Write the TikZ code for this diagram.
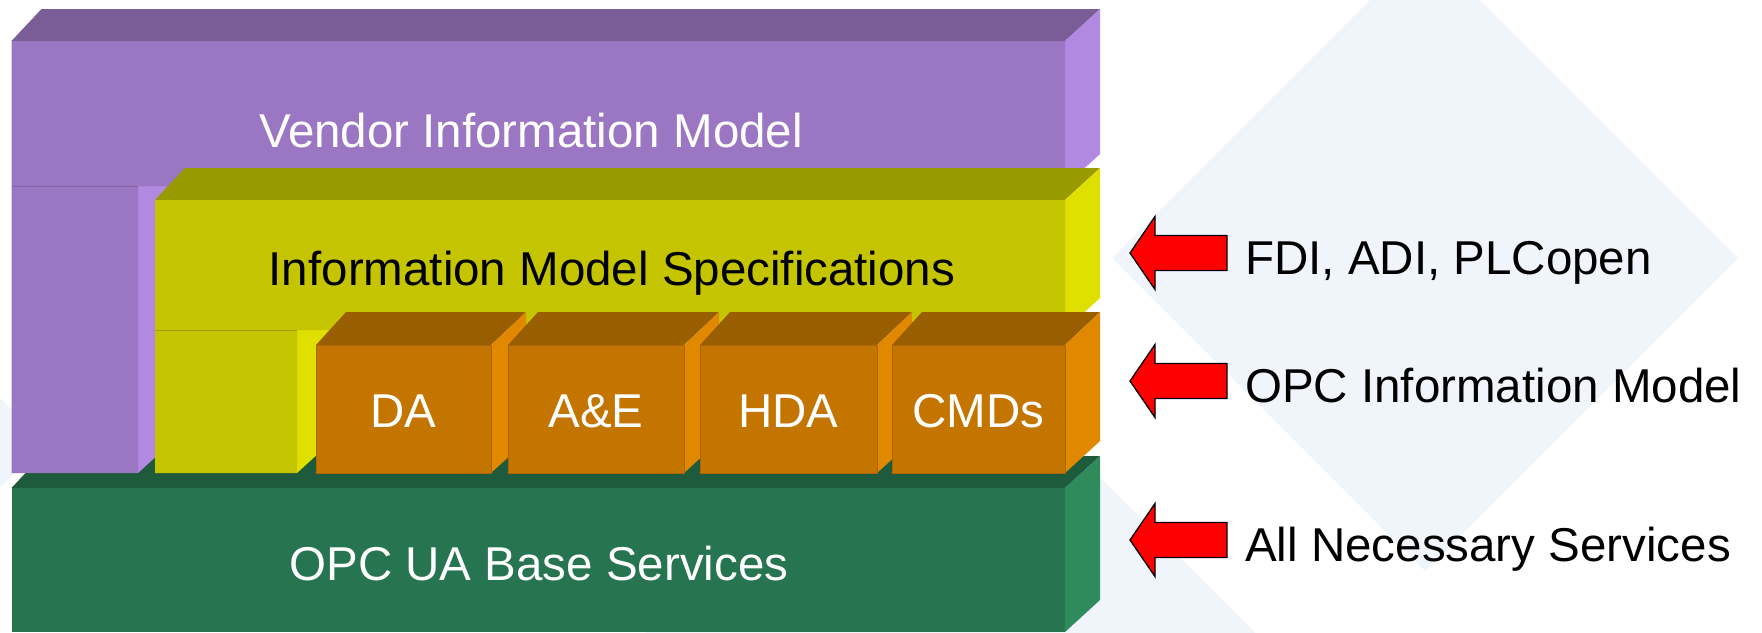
\documentclass[tikz,border=0pt]{standalone}
\usepackage{fontspec}
\setmainfont{Liberation Sans}
\definecolor{pfront}{RGB}{155,118,194}
\definecolor{ptop}{RGB}{122,92,150}
\definecolor{pside}{RGB}{177,137,224}
\definecolor{pline}{RGB}{133,100,170}
\definecolor{yfront}{RGB}{197,196,0}
\definecolor{ytop}{RGB}{153,153,0}
\definecolor{yside}{RGB}{224,224,0}
\definecolor{yline}{RGB}{160,158,0}
\definecolor{ofront}{RGB}{196,117,0}
\definecolor{otop}{RGB}{153,94,0}
\definecolor{oside}{RGB}{224,136,0}
\definecolor{oline}{RGB}{172,102,0}
\definecolor{gfront}{RGB}{39,117,80}
\definecolor{gtop}{RGB}{30,90,60}
\definecolor{gside}{RGB}{47,138,92}
\definecolor{pale}{RGB}{240,245,252}
\newcommand{\orangebox}[4]{%
  \fill[otop] (#1,345) -- (#1+30,312) -- (#2+35,312) -- (#2,345) -- cycle;
  \fill[oside] (#2,345) -- (#2+35,312) -- (#2+35,441) -- (#2,473) -- cycle;
  \filldraw[ofront, draw=oline, face] (#1,345) rectangle (#2,473);
  \node[lbl, text=white] (#3) at ({(#1+#2)/2},427) {#4};
}
\begin{document}
\begin{tikzpicture}[x=1pt, y=-1pt,
  face/.style={line width=0.7pt, line join=round},
  lbl/.style={font=\fontsize{47.5}{57}\selectfont, inner sep=0pt, anchor=base},
  side label/.style={font=\fontsize{47.5}{57}\selectfont, inner sep=0pt, anchor=base west, text=black},
  redarrow/.style={fill=red, draw=black, line width=1.3pt, line join=miter}]
\useasboundingbox (0,0) rectangle (1762,632);
\fill[white] (0,0) rectangle (1762,632);
% pale background diamonds
\fill[pale] (1112,258) -- (1425,-55) -- (1738,258) -- (1425,571) -- cycle;
\fill[pale] (620,658) -- (950,328) -- (1280,658) -- (950,988) -- cycle;
\fill[pale] (-580,443) -- (-268,130) -- (45,443) -- (-268,756) -- cycle;

% green base
\fill[gtop] (11.5,488) -- (41.5,456) -- (1100,456) -- (1065,488) -- cycle;
\fill[gside] (1065,488) -- (1100,456) -- (1100,600) -- (1065,632) -- cycle;
\fill[gfront] (11.5,488) rectangle (1065,632);

% purple vendor block
\fill[ptop] (11.5,41) -- (41.5,9) -- (1100,9) -- (1065,41) -- cycle;
\fill[pside] (1065,41) -- (1100,9) -- (1100,154) -- (1065,186) -- cycle;
\fill[pside] (138,186) -- (173,186) -- (173,441) -- (138,473) -- cycle;
\fill[pfront] (11.5,41) -- (1065,41) -- (1065,186) -- (138,186) -- (138,473) -- (11.5,473) -- cycle;
\draw[pline, face] (11.5,186) -- (138,186);

% yellow information model specifications block
\fill[ytop] (155,200) -- (185,168) -- (1100,168) -- (1065,200) -- cycle;
\fill[yside] (1065,200) -- (1100,168) -- (1100,298) -- (1065,330) -- cycle;
\fill[yside] (297,330) -- (332,330) -- (332,441) -- (297,473) -- cycle;
\fill[yfront] (155,200) -- (1065,200) -- (1065,330) -- (297,330) -- (297,473) -- (155,473) -- cycle;
\draw[yline, face] (155,330) -- (297,330);

% orange boxes
\orangebox{316}{491}{da}{DA}
\orangebox{508}{684}{ae}{A\&E}
\orangebox{700}{877}{hda}{HDA}
\orangebox{892}{1065}{cmds}{CMDs}

% block labels
\node[lbl, text=white] (vendor) at (531,147) {Vendor Information Model};
\node[lbl, text=black] (ims) at (612,285) {Information Model Specifications};
\node[lbl, text=white] (base) at (539,580) {OPC UA Base Services};

% red arrows
\foreach \c in {253,381,540} {
  \filldraw[redarrow] (1130,\c) -- (1155,\c-36.5) -- (1155,\c-17.5) -- (1227,\c-17.5)
    -- (1227,\c+17.5) -- (1155,\c+17.5) -- (1155,\c+36.5) -- cycle;
}

% right labels
\node[side label] (lfdi) at (1245,274) {FDI, ADI, PLCopen};
\node[side label] (lopc) at (1245,402) {OPC Information Model};
\node[side label] (lall) at (1245,561) {All Necessary Services};
\end{tikzpicture}
\end{document}
